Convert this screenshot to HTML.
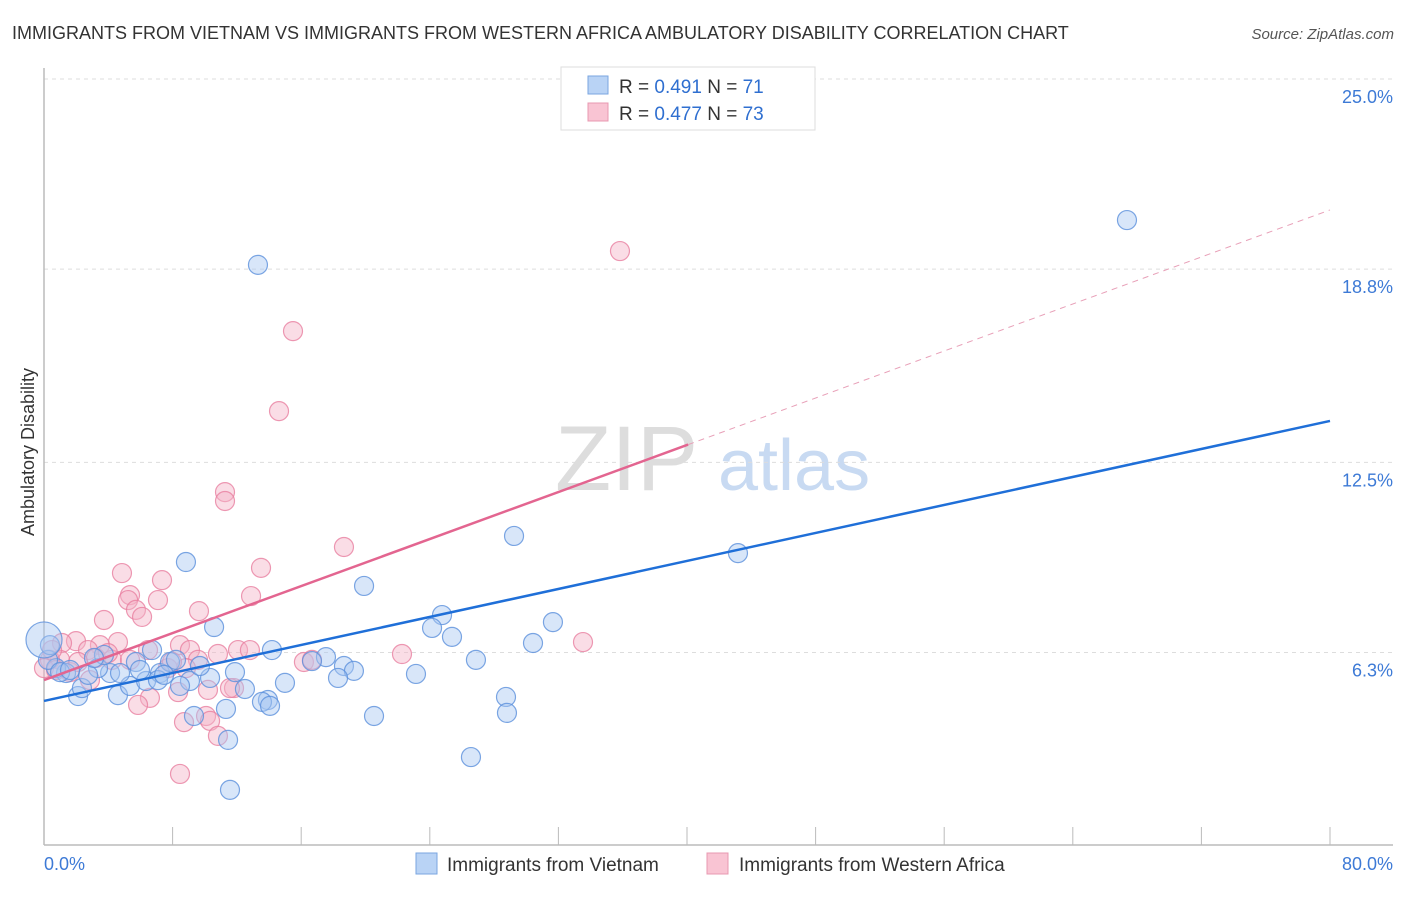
<!DOCTYPE html>
<html><head><meta charset="utf-8"><style>
body{margin:0;background:#fff;font-family:"Liberation Sans",sans-serif}
svg text{font-family:"Liberation Sans",sans-serif}
</style></head><body>
<svg id="c" width="1406" height="892" viewBox="0 0 1406 892">
<text x="12" y="39" font-size="18" fill="#333">IMMIGRANTS FROM VIETNAM VS IMMIGRANTS FROM WESTERN AFRICA AMBULATORY DISABILITY CORRELATION CHART</text>
<text x="1394" y="39" font-size="15" fill="#555" font-style="italic" text-anchor="end">Source: ZipAtlas.com</text>
<g>
<text x="555" y="490" font-size="92" font-family="Liberation Serif" fill="#ddd">ZIP</text>
<text x="718" y="490" font-size="72" fill="#c8daf2">atlas</text>
</g>
<g id="grid"></g><g id="axes"></g><g id="pts"></g><g id="lines"></g>
<text x="38" y="456" font-size="18" fill="#333" text-anchor="middle" transform="rotate(-90 34 456)">Ambulatory Disability</text>
<g>
<rect x="561" y="67" width="254" height="63" fill="#fff" stroke="#ddd"/>
<rect x="588" y="76" width="20" height="18" fill="#b9d3f5" stroke="#7aa6e0"/>
<text x="619" y="93" font-size="19" fill="#333">R = <tspan fill="#2f6fd0">0.491</tspan>   N = <tspan fill="#2f6fd0"> 71</tspan></text>
<rect x="588" y="103" width="20" height="18" fill="#f9c4d3" stroke="#e898b0"/>
<text x="619" y="120" font-size="19" fill="#333">R = <tspan fill="#2f6fd0">0.477</tspan>   N = <tspan fill="#2f6fd0">73</tspan></text>
</g>
<g>
<rect x="416" y="853" width="21" height="21" fill="#b9d3f5" stroke="#7aa6e0"/>
<text x="447" y="871" font-size="19" fill="#333">Immigrants from Vietnam</text>
<rect x="707" y="853" width="21" height="21" fill="#f9c4d3" stroke="#e898b0"/>
<text x="739" y="871" font-size="19" fill="#333">Immigrants from Western Africa</text>
</g>
</svg>
<script>
const yTicks=[6.3,12.5,18.8,25.0];
const yTickLabels=["6.3%","12.5%","18.8%","25.0%"];
const xTickLabels=["0.0%","80.0%"];
const blueX=[13.31,67.37,8.83,29.24,43.17,19.91,24.76,24.14,10.58,25.38,31.66,30.42,14.18,6.72,26.87,17.54,16.67,18.66,19.28,18.29,23.14,14.99,11.88,10.33,9.08,8.46,12.50,28.74,28.80,13.93,13.56,14.06,11.32,9.33,20.53,26.56,11.45,11.57,4.60,2.12,2.36,5.35,6.35,7.22,7.84,9.70,5.72,4.11,3.36,2.74,1.37,0.75,0.25,0.37,1.00,1.62,4.73,7.09,8.21,3.73,3.11,5.97,7.47,0.0];
const blueY=[18.94,20.40,9.25,10.10,9.54,8.47,7.52,7.10,7.13,6.81,7.29,6.61,6.38,6.38,6.06,6.15,6.02,5.86,5.70,5.47,5.60,5.31,5.66,5.47,5.37,5.21,5.11,4.85,4.33,4.75,4.69,4.56,4.46,4.23,4.23,2.89,3.45,1.82,4.91,4.88,5.14,5.21,5.37,5.63,5.99,5.86,5.99,5.63,5.79,5.57,5.63,5.79,6.06,6.54,5.66,5.73,5.63,5.40,6.06,6.22,6.12,5.73,5.57,6.71];
const pinkX=[35.83,15.49,14.62,11.26,11.26,18.66,13.50,4.85,7.34,5.35,5.23,7.09,5.72,12.88,9.64,6.10,3.73,33.53,22.27,16.17,16.67,8.46,9.08,10.82,12.07,12.81,9.58,8.83,7.71,6.47,4.60,3.48,1.99,1.12,2.74,3.23,4.23,5.35,1.00,0.37,0.50,0.0,1.62,0.75,2.86,6.59,5.85,8.34,10.20,11.82,11.57,10.08,8.71,10.33,10.82,8.46,2.12,3.98,7.96];
const pinkY=[19.39,16.78,14.17,11.53,11.24,9.74,9.06,8.89,8.66,8.17,8.01,8.01,7.69,8.14,7.65,7.46,7.36,6.64,6.25,5.99,6.06,6.54,6.38,6.25,6.38,6.38,6.06,5.79,5.79,6.38,6.64,6.54,6.67,6.61,6.38,6.12,6.06,6.06,6.06,6.06,6.38,5.79,5.66,5.73,5.40,4.82,4.59,5.01,5.08,5.14,5.14,4.23,4.03,4.07,3.58,2.34,5.99,6.28,5.99];
const blueTrend=[4.72,13.85];
const pinkTrend=[5.40,20.73];
const pinkSolidEnd=40.07;

const X0=44,X1=1330,Y0=845.7,Y25=79;
const sx=v=>X0+(X1-X0)*v/80;
const sy=v=>Y0-(Y0-Y25)*v/25;
const NS="http://www.w3.org/2000/svg";
function mk(p,t,a){const e=document.createElementNS(NS,t);for(const k in a)e.setAttribute(k,a[k]);p.appendChild(e);return e;}
const grid=document.getElementById('grid'),axes=document.getElementById('axes'),pts=document.getElementById('pts'),lines=document.getElementById('lines');
yTicks.forEach((t,i)=>{
 const y=i==3?Y25:sy(t);
 const g=mk(grid,'line',{x1:X0,x2:1393,y1:y,y2:y,stroke:'#ddd','stroke-dasharray':'4,4'});
 
 
 const l=mk(grid,'text',{x:1393,y:y+24,'font-size':18,fill:'#3d7ad6','text-anchor':'end'});
 l.textContent=yTickLabels[i];
 
 
});
const ax=mk(axes,'line',{x1:X0,x2:1393,y1:845,y2:845,stroke:'#bbb','stroke-width':1.5});


const ay=mk(axes,'line',{x1:X0,x2:X0,y1:68,y2:845,stroke:'#bbb','stroke-width':1.5});


for(let i=0;i<=10;i++){const x=sx(i*8);
 const t=mk(axes,'line',{x1:x,x2:x,y1:827,y2:845,stroke:'#bbb'});
 
 }
[[0,'start',X0],[1,'end',1393]].forEach(([i,a,x])=>{
 const l=mk(axes,'text',{x:x,y:870,'font-size':18,fill:'#3d7ad6','text-anchor':a});
 l.textContent=xTickLabels[i];
 
 });
function dots(xs,ys,fill,stroke,name){xs.forEach((v,i)=>{
 const big=(v===0&&name==='point-vietnam');
 const c=mk(pts,'circle',{cx:sx(v),cy:sy(ys[i]),r:big?18:9.5,fill:fill,'fill-opacity':0.45,stroke:stroke,'stroke-opacity':0.8,'stroke-width':1.2});
 
 });}
dots(pinkX,pinkY,'#f5b3c7','#e87fa0','point-wafrica');
dots(blueX,blueY,'#a9c8f2','#5b90dc','point-vietnam');
const bl=mk(lines,'line',{x1:sx(0),y1:sy(blueTrend[0]),x2:sx(80),y2:sy(blueTrend[1]),stroke:'#1f6fd8','stroke-width':2.5});


const pm=(pinkTrend[1]-pinkTrend[0])/80;
const pl=mk(lines,'line',{x1:sx(0),y1:sy(pinkTrend[0]),x2:sx(pinkSolidEnd),y2:sy(pinkTrend[0]+pm*pinkSolidEnd),stroke:'#e36590','stroke-width':2.5});


const pd=mk(lines,'line',{x1:sx(pinkSolidEnd),y1:sy(pinkTrend[0]+pm*pinkSolidEnd),x2:sx(80),y2:sy(pinkTrend[1]),stroke:'#e8a0b8','stroke-width':1,'stroke-dasharray':'6,5'});


</script>
</body></html>
